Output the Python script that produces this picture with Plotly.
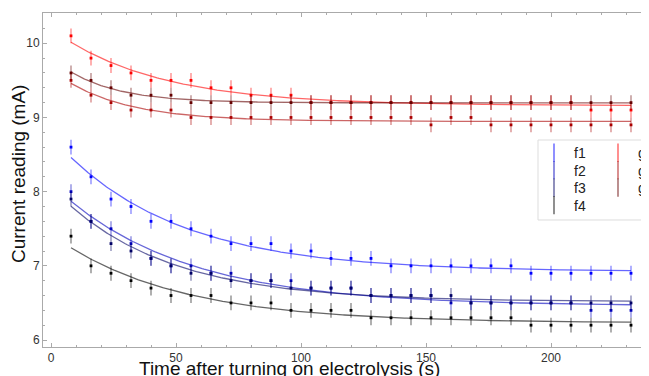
import numpy as np
import plotly.graph_objects as go

# ---------------- data ----------------
time_s = [8, 16, 24, 32, 40, 48, 56, 64, 72, 80, 88, 96, 104, 112, 120, 128,
          136, 144, 152, 160, 168, 176, 184, 192, 200, 208, 216, 224, 232]

f1 = [8.6, 8.2, 7.9, 7.8, 7.6, 7.6, 7.5, 7.4, 7.3, 7.3, 7.3, 7.2, 7.2, 7.1, 7.1, 7.1,
      7.0, 7.0, 7.0, 7.0, 7.0, 7.0, 7.0, 6.9, 6.9, 6.9, 6.9, 6.9, 6.9]
f2 = [8.0, 7.6, 7.5, 7.3, 7.1, 7.0, 7.0, 6.9, 6.9, 6.8, 6.8, 6.8, 6.7, 6.7, 6.7, 6.6,
      6.6, 6.6, 6.6, 6.5, 6.5, 6.5, 6.5, 6.5, 6.5, 6.5, 6.4, 6.4, 6.4]
f3 = [7.9, 7.6, 7.3, 7.2, 7.1, 7.0, 6.9, 6.9, 6.8, 6.8, 6.8, 6.7, 6.7, 6.7, 6.7, 6.6,
      6.6, 6.6, 6.6, 6.6, 6.5, 6.5, 6.5, 6.5, 6.5, 6.5, 6.5, 6.5, 6.5]
f4 = [7.4, 7.0, 6.9, 6.8, 6.7, 6.6, 6.6, 6.6, 6.5, 6.5, 6.5, 6.4, 6.4, 6.4, 6.4, 6.3,
      6.3, 6.3, 6.3, 6.3, 6.3, 6.3, 6.3, 6.2, 6.2, 6.2, 6.2, 6.2, 6.2]
g1 = [10.1, 9.8, 9.7, 9.6, 9.5, 9.5, 9.5, 9.4, 9.4, 9.3, 9.3, 9.3, 9.2, 9.2, 9.2, 9.2,
      9.2, 9.2, 9.2, 9.2, 9.2, 9.2, 9.2, 9.2, 9.2, 9.2, 9.1, 9.1, 9.1]
g2 = [9.5, 9.3, 9.2, 9.1, 9.1, 9.1, 9.0, 9.0, 9.0, 9.0, 9.0, 9.0, 9.0, 9.0, 9.0, 9.0,
      9.0, 9.0, 8.9, 9.0, 9.0, 8.9, 8.9, 8.9, 8.9, 8.9, 8.9, 8.9, 8.9]
g3 = [9.6, 9.5, 9.4, 9.3, 9.3, 9.3, 9.2, 9.2, 9.2, 9.2, 9.2, 9.2, 9.2, 9.2, 9.2, 9.2,
      9.2, 9.2, 9.2, 9.2, 9.2, 9.2, 9.2, 9.2, 9.2, 9.2, 9.2, 9.2, 9.2]
reading_error = 0.1

series_names = ["f1", "f2", "f3", "f4", "g1", "g2", "g3"]
series_values = [f1, f2, f3, f4, g1, g2, g3]
series_rgb = [(0, 0, 255), (0, 0, 190), (0, 0, 100), (0, 0, 0),
              (255, 0, 0), (170, 0, 0), (100, 0, 0)]

x_tick_vals = [0, 50, 100, 150, 200]
y_tick_vals = [6, 7, 8, 9, 10]

# ---------------- exponential fit (from the data) ----------------
def exp_fit(t, y):
    t = np.asarray(t, float)
    y = np.asarray(y, float)
    best = None
    for tau in np.linspace(5, 400, 3951):
        e = np.exp(-t / tau)
        A = np.vstack([np.ones_like(t), e]).T
        coef, *_ = np.linalg.lstsq(A, y, rcond=None)
        r = float(np.sum((A @ coef - y) ** 2))
        if best is None or r < best[0]:
            best = (r, tau, coef)
    _, tau, (c, a) = best
    return lambda tt: c + a * np.exp(-np.asarray(tt) / tau)

def rgba(rgb, a):
    return "rgba(%d,%d,%d,%.2f)" % (rgb[0], rgb[1], rgb[2], a)

# ---------------- geometry (screen pixels; page body has an 8px margin) ----------------
OFF = 8
SW, SH = 649, 376                 # window
FW, FH = SW - OFF, SH - OFF       # figure size so it fits the window
L, T, B = 43, 13, 347             # plot area edges in screen px
PW, PH = SW - L, B - T

def px_x(p):
    return (p - L) / PW

def px_y(p):
    return 1 - (p - T) / PH

fig = go.Figure()
t_fine = np.linspace(min(time_s), max(time_s), 300)

for name, vals, rgb in zip(series_names, series_values, series_rgb):
    model = exp_fit(time_s, vals)
    fig.add_trace(go.Scatter(
        x=t_fine, y=model(t_fine), mode="lines",
        line=dict(color=rgba(rgb, 0.6), width=1.3),
        showlegend=False, hoverinfo="skip"))
    fig.add_trace(go.Scatter(
        x=time_s, y=vals, mode="markers",
        marker=dict(symbol="square", size=2.8, color=rgba(rgb, 1)),
        error_y=dict(type="constant", value=reading_error, thickness=1.8,
                     width=0, color=rgba(rgb, 0.35)),
        showlegend=False))

# legend: one single-entry legend per slot, laid out in two columns
legend_rows = [153, 170.5, 188, 205.5]
legend_cols = [534, 598]
legend_layout = {}
f_count = g_count = 0
for i, (name, rgb) in enumerate(zip(series_names, series_rgb)):
    if name.startswith("f"):
        col, row = 0, f_count
        f_count += 1
    else:
        col, row = 1, g_count
        g_count += 1
    key = "legend" if i == 0 else "legend%d" % (i + 1)
    fig.add_trace(go.Scatter(
        x=[None], y=[None], mode="markers", name=name,
        marker=dict(symbol="line-ns", size=13,
                    line=dict(color=rgba(rgb, 0.55), width=1.6)),
        legend=key))
    legend_layout[key] = dict(
        x=px_x(legend_cols[col]), y=px_y(legend_rows[row]),
        xanchor="left", yanchor="middle",
        bgcolor="rgba(0,0,0,0)", borderwidth=0,
        font=dict(family="Liberation Sans, Arial", size=14, color="#222"),
        itemsizing="trace")

fig.update_layout(
    width=FW, height=FH,
    margin=dict(l=L - OFF, r=0, t=T - OFF, b=FH - (B - OFF), autoexpand=False),
    paper_bgcolor="white", plot_bgcolor="white",
    font=dict(family="Liberation Sans, Arial", color="#333"),
    xaxis=dict(range=[-3.2, 239.2], tickvals=x_tick_vals, showgrid=False,
               zeroline=False, showline=True, linecolor="#aaa", linewidth=1,
               mirror="ticks", ticks="inside", ticklen=4, tickcolor="#aaa",
               tickfont=dict(size=12, color="#333"),
               minor=dict(dtick=10, ticks="inside", ticklen=2, tickcolor="#aaa")),
    yaxis=dict(range=[5.906, 10.408], tickvals=y_tick_vals, showgrid=False,
               zeroline=False, showline=True, linecolor="#aaa", linewidth=1,
               ticks="inside", ticklen=4, tickcolor="#aaa",
               tickfont=dict(size=12, color="#333"),
               minor=dict(dtick=0.2, ticks="inside", ticklen=2, tickcolor="#aaa")),
    annotations=[
        dict(text="Time after turning on electrolysis (s)", xref="paper", yref="paper",
             x=px_x(289), y=px_y(368), xanchor="center", yanchor="middle",
             showarrow=False, font=dict(size=19, color="#111")),
        dict(text="Current reading (mA)", xref="paper", yref="paper",
             x=px_x(18), y=px_y(174), xanchor="center", yanchor="middle",
             textangle=-90, showarrow=False, font=dict(size=19, color="#111")),
    ],
    shapes=[
        dict(type="path", xref="paper", yref="paper",
             path="M %f,%f L %f,%f L %f,%f L %f,%f Z" % (
                 px_x(538), px_y(140), px_x(700), px_y(140),
                 px_x(700), px_y(220), px_x(538), px_y(220)),
             line=dict(color="#ddd", width=1), fillcolor="rgba(255,255,255,0.8)",
             layer="below"),
    ],
    **legend_layout,
)

fig.write_html("out.html")
